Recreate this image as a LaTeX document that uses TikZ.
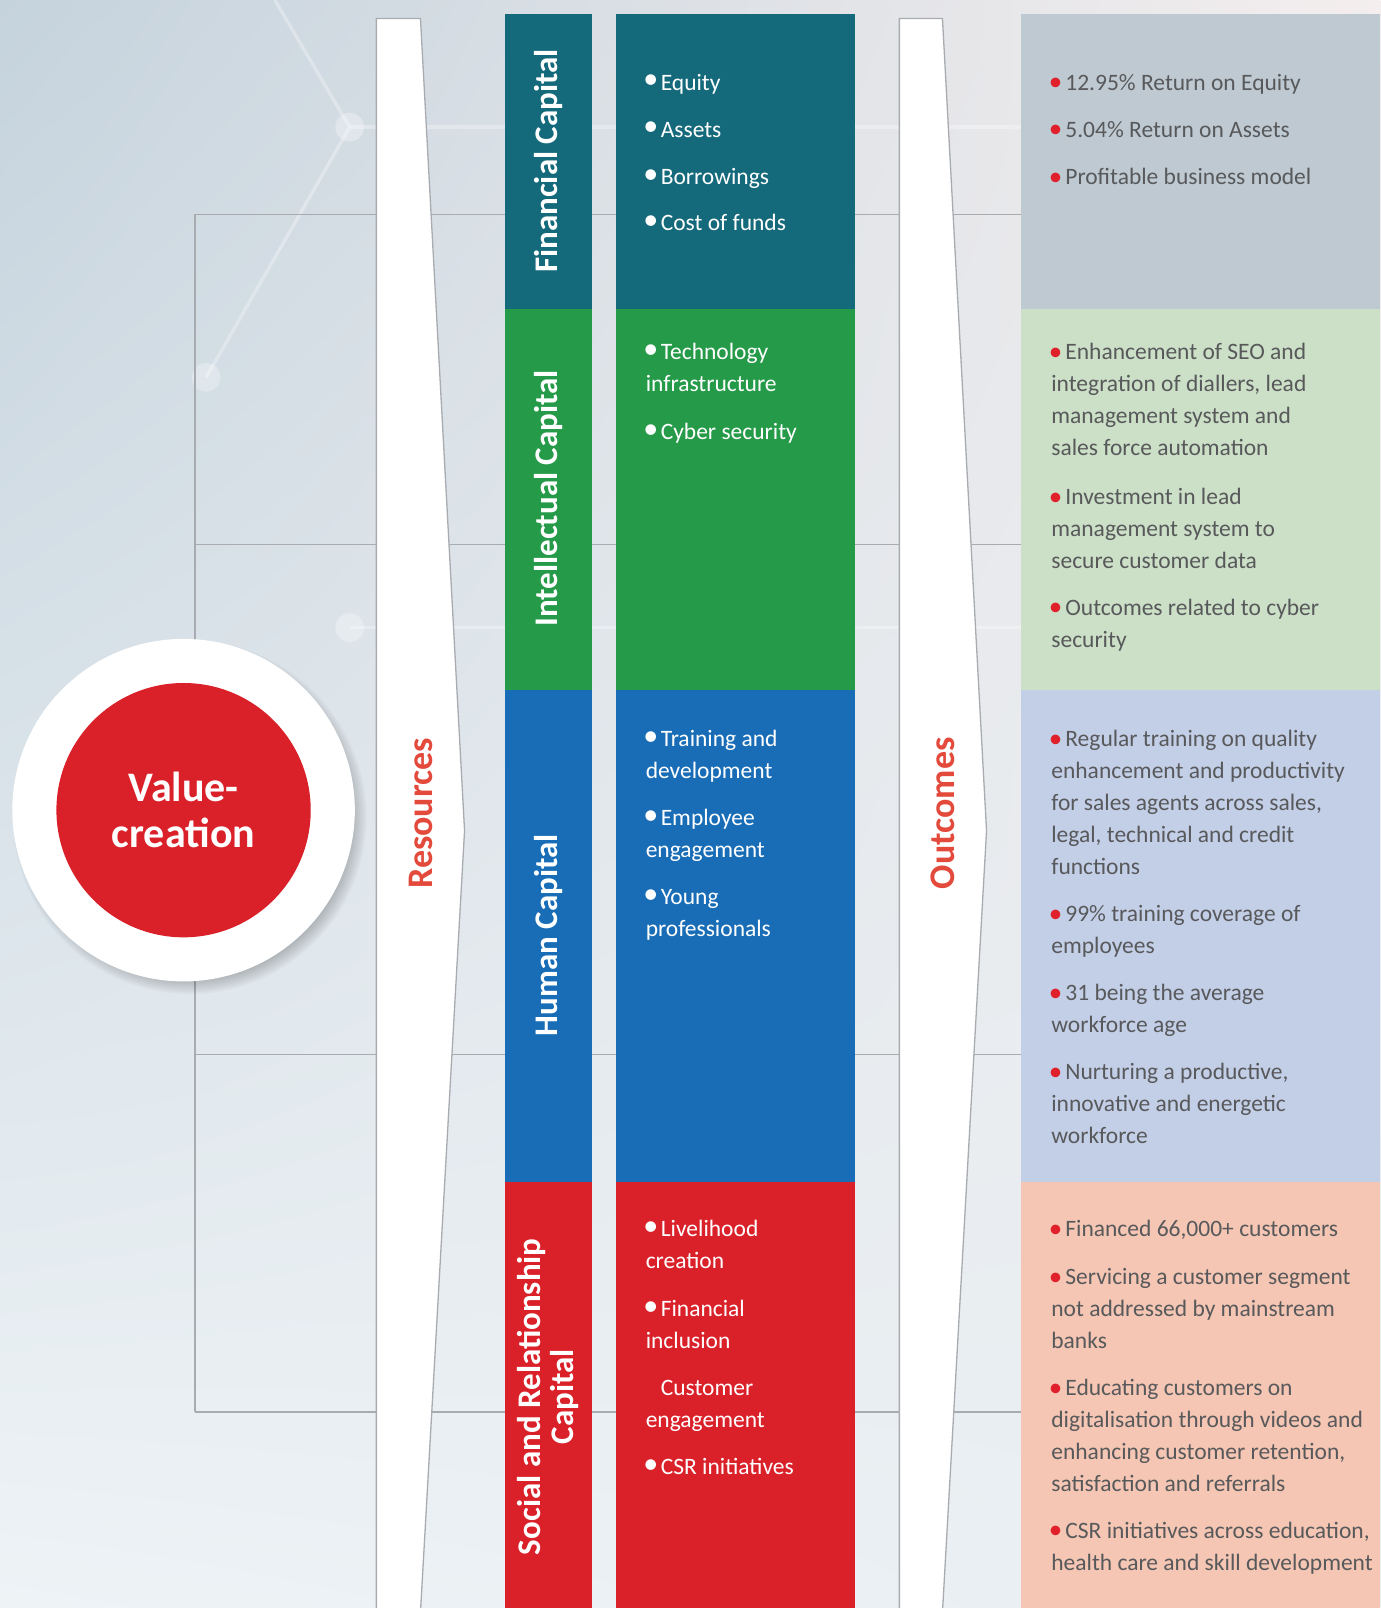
\documentclass[tikz,border=0pt]{standalone}
\usepackage{fontspec}
\setmainfont{Carlito}
\usepackage{tikz}
\usetikzlibrary{shadings}

\definecolor{fincol}{HTML}{14697B}
\definecolor{intcol}{HTML}{259A48}
\definecolor{humcol}{HTML}{186DB6}
\definecolor{soccol}{HTML}{DA2129}
\definecolor{finout}{HTML}{BEC9D2}
\definecolor{intout}{HTML}{CCDFC7}
\definecolor{humout}{HTML}{C3CEE7}
\definecolor{socout}{HTML}{F5C6B4}
\definecolor{arrowtext}{HTML}{E34A3B}
\definecolor{linkgray}{HTML}{A8ACB0}
\definecolor{outtext}{HTML}{58595B}
\definecolor{bulred}{HTML}{E0202A}
\definecolor{bgtl}{HTML}{C5D3DD}
\definecolor{bgtr}{HTML}{F4EEEE}
\definecolor{bgbl}{HTML}{EEF3F6}
\definecolor{bgbr}{HTML}{E8EEF2}

\newcommand{\itembul}{\makebox[15pt][l]{\hspace*{-2.5pt}\raisebox{1.5pt}{\fontsize{30}{30}\selectfont •}}}
\newcommand{\outbul}{\makebox[14pt][l]{\hspace*{-2.5pt}\raisebox{-0.5pt}{\textcolor{bulred}{\fontsize{27}{27}\selectfont •}}}}
\newcommand{\nobul}{\hspace*{15pt}}

\begin{document}
\begin{tikzpicture}[x=1.0253pt, y=-1.0253pt]
    \tikzset{
        itemtxt/.style={anchor=base west, inner sep=0pt, align=left,
            text=white, font=\fontsize{23.5}{32}\selectfont},
        outtxt/.style={itemtxt, text=outtext},
        nlines/.style={yshift={-(#1-1)*32pt}},
        caplabel/.style={rotate=90, text=white, align=center,
            font=\bfseries\fontsize{33}{33}\selectfont},
        arrowlabel/.style={rotate=90, text=arrowtext,
            font=\bfseries\fontsize{36}{36}\selectfont},
        bigarrow/.style={fill=white, draw=linkgray, line width=1.3pt},
        linkline/.style={draw=linkgray, line width=1.4pt},
        netline/.style={white, opacity=0.3, line width=3.5pt}
    }

    \useasboundingbox (0,0) rectangle (1346,1568);
    \clip (0,0) rectangle (1346,1568);

    % Background
    \shade[upper left=bgtl, upper right=bgtr, lower left=bgbl, lower right=bgbr]
        (0,0) rectangle (1346,1568);
    \draw[netline] (268,0) -- (341,124) -- (201,368);
    \draw[netline] (341,124) -- (1346,124);
    \draw[netline] (341,612) -- (1346,612);
    \fill[white, opacity=0.3] (341,124) circle (14);
    \fill[white, opacity=0.3] (201,368) circle (14);
    \fill[white, opacity=0.3] (341,612) circle (14);

    % Links from the spine to the outcomes
    \foreach \y [count=\i] in {209,531,1028,1377} {
        \coordinate (s\i) at (190,\y);
        \coordinate (e\i) at (996,\y);
        \draw[linkline] (s\i) -- (e\i);
    }
    \draw[linkline] (s1) -- (s4);

    % The two big arrows
    \draw[bigarrow] (367,18) -- (410,18) -- (453,810) -- (409,1590) -- (367,1590) -- cycle;
    \draw[bigarrow] (877,18) -- (919,18) -- (962,810) -- (918,1590) -- (877,1590) -- cycle;
    \node[arrowlabel] (res) at (410,793) {Resources};
    \node[arrowlabel] (outc) at (919,793) {Outcomes};

    % Capital columns
    \fill[fincol] (492,14) rectangle (577,301);
    \fill[intcol] (492,301) rectangle (577,673);
    \fill[humcol] (492,673) rectangle (577,1153);
    \fill[soccol] (492,1153) rectangle (577,1575);
    \fill[fincol] (601,14) rectangle (834,301);
    \fill[intcol] (601,301) rectangle (834,673);
    \fill[humcol] (601,673) rectangle (834,1153);
    \fill[soccol] (601,1153) rectangle (834,1575);

    % Outcome boxes
    \fill[finout] (996,14) rectangle (1346,301);
    \fill[intout] (996,301) rectangle (1346,673);
    \fill[humout] (996,673) rectangle (1346,1153);
    \fill[socout] (996,1153) rectangle (1346,1575);

    \node[caplabel] (finlab) at (534.5,157) {Financial Capital};
    \node[caplabel] (intlab) at (534.5,486) {Intellectual Capital};
    \node[caplabel] (humlab) at (534.5,912) {Human Capital};
    \node[caplabel] (soclab) at (534.5,1362) {Social and Relationship\\Capital};

    % Value-creation circle
    \foreach \k in {0,...,9}
        \fill[black, opacity=0.025] (185,797) circle ({158+\k*1.6});
    \fill[white] (179,790) circle (167);
    \fill[soccol] (179,790) circle (124);
    \node[text=white, align=center, font=\bfseries\fontsize{42}{46}\selectfont]
        (value) at (179,790) {Value-\\creation};

    % Resources
    \node[itemtxt] (fin1) at (629.5,88) {\itembul Equity};
    \node[itemtxt] (fin2) at (629.5,134) {\itembul Assets};
    \node[itemtxt] (fin3) at (629.5,180) {\itembul Borrowings};
    \node[itemtxt] (fin4) at (629.5,225) {\itembul Cost of funds};

    \node[itemtxt, nlines=2] (int1) at (629.5,351) {\itembul Technology\\infrastructure};
    \node[itemtxt] (int2) at (629.5,429) {\itembul Cyber security};

    \node[itemtxt, nlines=2] (hum1) at (629.5,728) {\itembul Training and\\development};
    \node[itemtxt, nlines=2] (hum2) at (629.5,805) {\itembul Employee\\engagement};
    \node[itemtxt, nlines=2] (hum3) at (629.5,882) {\itembul Young\\professionals};

    \node[itemtxt, nlines=2] (soc1) at (629.5,1206) {\itembul Livelihood\\creation};
    \node[itemtxt, nlines=2] (soc2) at (629.5,1284) {\itembul Financial\\inclusion};
    \node[itemtxt, nlines=2] (soc3) at (629.5,1361) {\nobul Customer\\engagement};
    \node[itemtxt] (soc4) at (629.5,1438) {\itembul CSR initiatives};

    % Outcomes
    \node[outtxt] (fout1) at (1025,88) {\outbul 12.95\% Return on Equity};
    \node[outtxt] (fout2) at (1025,134) {\outbul 5.04\% Return on Assets};
    \node[outtxt] (fout3) at (1025,180) {\outbul Profitable business model};

    \node[outtxt, nlines=4] (iout1) at (1025,351) {\outbul Enhancement of SEO and\\integration of diallers, lead\\management system and\\sales force automation};
    \node[outtxt, nlines=3] (iout2) at (1025,492) {\outbul Investment in lead\\management system to\\secure customer data};
    \node[outtxt, nlines=2] (iout3) at (1025,600) {\outbul Outcomes related to cyber\\security};

    \node[outtxt, nlines=5] (hout1) at (1025,728) {\outbul Regular training on quality\\enhancement and productivity\\for sales agents across sales,\\legal, technical and credit\\functions};
    \node[outtxt, nlines=2] (hout2) at (1025,899) {\outbul 99\% training coverage of\\employees};
    \node[outtxt, nlines=2] (hout3) at (1025,976) {\outbul 31 being the average\\workforce age};
    \node[outtxt, nlines=3] (hout4) at (1025,1053) {\outbul Nurturing a productive,\\innovative and energetic\\workforce};

    \node[outtxt] (sout1) at (1025,1206) {\outbul Financed 66,000+ customers};
    \node[outtxt, nlines=3] (sout2) at (1025,1253) {\outbul Servicing a customer segment\\not addressed by mainstream\\banks};
    \node[outtxt, nlines=4] (sout3) at (1025,1361) {\outbul Educating customers on\\digitalisation through videos and\\enhancing customer retention,\\satisfaction and referrals};
    \node[outtxt, nlines=2] (sout4) at (1025,1500) {\outbul CSR initiatives across education,\\health care and skill development};
\end{tikzpicture}
\end{document}
